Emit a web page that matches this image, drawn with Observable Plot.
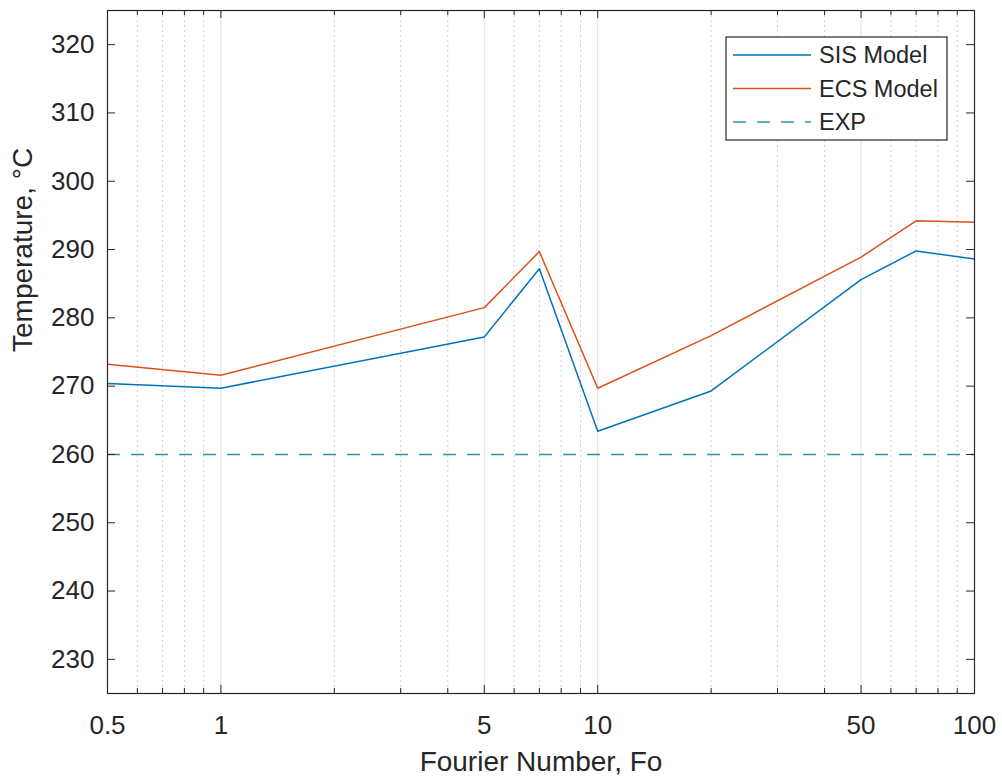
<!DOCTYPE html>
<html><head><meta charset="utf-8">
<script src="https://cdn.jsdelivr.net/npm/d3@7"></script>
<script src="https://cdn.jsdelivr.net/npm/@observablehq/plot@0.6"></script>
<style>html,body{margin:0;padding:0;background:#fff}#chart svg{display:block}</style>
</head><body><div id="chart"></div>
<script>
// ---- data ----
const fourier = [0.5, 1, 5, 7, 10, 20, 50, 70, 100];
const sisModel = [270.4, 269.7, 277.2, 287.2, 263.4, 269.3, 285.6, 289.8, 288.6];
const ecsModel = [273.2, 271.6, 281.5, 289.7, 269.7, 277.4, 288.9, 294.2, 294.0];
const expTemp = [260];
const xTicks = [0.5, 1, 5, 10, 50, 100];
const xTickLabels = ["0.5", "1", "5", "10", "50", "100"];
const xMinor = [0.6, 0.7, 0.8, 0.9, 2, 3, 4, 6, 7, 8, 9, 20, 30, 40, 60, 70, 80, 90];
const yTicks = [230, 240, 250, 260, 270, 280, 290, 300, 310, 320];
const seriesNames = ["SIS Model", "ECS Model", "EXP"];
const xLabel = "Fourier Number, Fo";
const yLabel = "Temperature, °C";

// ---- layout / style ----
const W = 1002, H = 777, mL = 107, mR = 28, mT = 10, mB = 84;
const plotW = W - mL - mR, plotH = H - mT - mB;
const axisColor = "#262626";
const sisColor = "#0072BD", ecsColor = "#D95319", expColor = "#3391ad";
const font = "'Liberation Sans', Arial, Helvetica, sans-serif";

const sisData = fourier.map((f, i) => ({f, t: sisModel[i]}));
const ecsData = fourier.map((f, i) => ({f, t: ecsModel[i]}));

const chart = Plot.plot({
  width: W, height: H,
  marginLeft: mL, marginRight: mR, marginTop: mT, marginBottom: mB,
  style: {fontFamily: font, background: "#fff", color: axisColor},
  x: {type: "log", domain: [0.5, 100], axis: null},
  y: {domain: [225, 325]},
  marks: [
    Plot.ruleX(xMinor, {x: d => d, stroke: "#cfcfcf", strokeDasharray: "2,3"}),
    Plot.ruleX(xTicks, {x: d => d, stroke: "#dedede"}),
    Plot.ruleY(expTemp, {y: d => d, stroke: expColor, strokeDasharray: "13,11", strokeWidth: 1.5}),
    Plot.line(sisData, {x: "f", y: "t", stroke: sisColor, strokeWidth: 1.5}),
    Plot.line(ecsData, {x: "f", y: "t", stroke: ecsColor, strokeWidth: 1.5}),
    Plot.tickX(xTicks, {x: d => d, stroke: axisColor, insetTop: plotH - 8}),
    Plot.tickX(xTicks, {x: d => d, stroke: axisColor, insetBottom: plotH - 8}),
    Plot.tickX(xMinor, {x: d => d, stroke: axisColor, insetTop: plotH - 5}),
    Plot.tickX(xMinor, {x: d => d, stroke: axisColor, insetBottom: plotH - 5}),
    Plot.tickY(yTicks, {y: d => d, stroke: axisColor, insetRight: plotW - 8}),
    Plot.tickY(yTicks, {y: d => d, stroke: axisColor, insetLeft: plotW - 8}),
    Plot.frame({stroke: axisColor, strokeWidth: 1.2}),
    Plot.text(xTicks, {x: d => d, text: (d, i) => xTickLabels[i], frameAnchor: "bottom", dy: 22, lineAnchor: "top", fontSize: 26, fill: axisColor}),
    Plot.axisY({ticks: yTicks, tickSize: 0, tickPadding: 13, fontSize: 26, label: null}),
    Plot.text([xLabel], {text: d => d, frameAnchor: "bottom", dy: 77, lineAnchor: "bottom", fontSize: 28, fill: axisColor}),
    Plot.text([yLabel], {text: d => d, frameAnchor: "left", rotate: -90, dx: -84, lineAnchor: "middle", fontSize: 28, fill: axisColor})
  ]
});

// ---- legend (inside plot, top-right) ----
const svg = d3.select(chart);
const lg = svg.append("g").attr("font-family", font).attr("font-size", 23.5)
  .attr("fill", axisColor).attr("text-anchor", "start");
lg.append("rect").attr("x", 726).attr("y", 37).attr("width", 221).attr("height", 103)
  .attr("fill", "#fff").attr("stroke", axisColor).attr("stroke-width", 1.2);
const legendColors = [sisColor, ecsColor, expColor];
const legendDash = [null, null, "13,11"];
seriesNames.forEach((name, i) => {
  const y = 55 + i * 33.5;
  lg.append("line").attr("x1", 733).attr("x2", 811).attr("y1", y).attr("y2", y)
    .attr("stroke", legendColors[i]).attr("stroke-width", 1.5)
    .attr("stroke-dasharray", legendDash[i]);
  lg.append("text").attr("x", 819).attr("y", y).attr("dy", "0.35em")
    .attr("text-anchor", "start").text(name);
});

document.getElementById("chart").appendChild(chart);
</script>
</body></html>
